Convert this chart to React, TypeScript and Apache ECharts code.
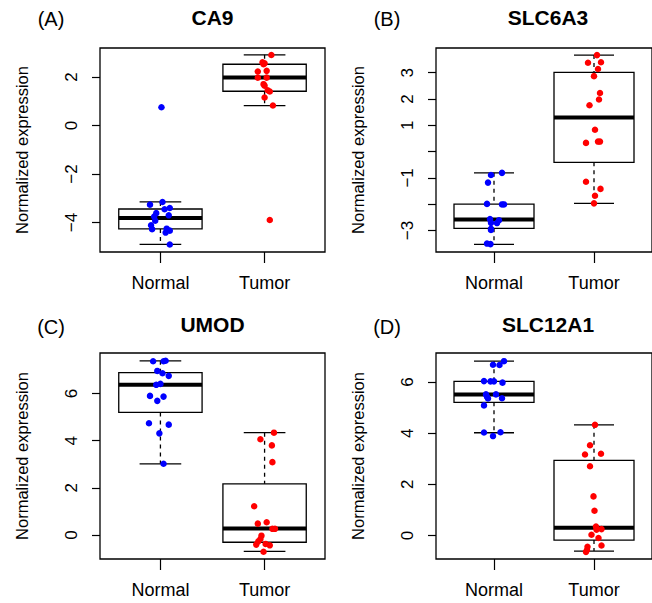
import React, { useEffect, useRef } from 'react';
import * as echarts from 'echarts';

// ---------- data ----------
const groups = ['Normal', 'Tumor'];
const genes = ['CA9', 'SLC6A3', 'UMOD', 'SLC12A1'];
const panelTags = ['(A)', '(B)', '(C)', '(D)'];
const yLabel = 'Normalized expression';

// box statistics: [lower whisker, Q1, median, Q3, upper whisker]
const ca9NormalBox = [-4.9, -4.26, -3.81, -3.44, -3.15];
const ca9TumorBox = [0.82, 1.41, 1.98, 2.52, 2.91];
const slc6a3NormalBox = [-3.53, -2.92, -2.58, -2.0, -0.81];
const slc6a3TumorBox = [-1.97, -0.41, 1.3, 3.01, 3.67];
const umodNormalBox = [3.02, 5.2, 6.37, 6.89, 7.39];
const umodTumorBox = [-0.7, -0.31, 0.27, 2.17, 4.34];
const slc12a1NormalBox = [4.02, 5.21, 5.52, 6.03, 6.82];
const slc12a1TumorBox = [-0.61, -0.18, 0.3, 2.94, 4.33];

// individual samples (value) and horizontal jitter
const ca9Normal = [0.75, -3.15, -3.26, -3.4, -3.45, -3.61, -3.7, -3.75, -3.92, -4.11, -4.25, -4.27, -4.33, -4.41, -4.9];
const ca9NormalJit = [0.01, 0.02, -0.1, 0.09, 0.04, -0.04, 0.08, -0.06, -0.05, -0.09, 0.06, -0.08, 0.09, 0.05, 0.09];
const ca9Tumor = [2.9, 2.6, 2.56, 2.52, 2.25, 2.22, 1.97, 1.97, 1.7, 1.64, 1.45, 1.4, 1.15, 0.82, -3.89];
const ca9TumorJit = [0.065, -0.02, 0.0, -0.01, 0.02, -0.065, -0.065, 0.02, -0.01, 0.0, 0.03, 0.05, 0.0, 0.08, 0.05];

const slc6a3Normal = [-0.81, -0.89, -1.18, -1.99, -2.01, -2.01, -2.57, -2.61, -2.71, -2.72, -2.94, -2.98, -3.5, -3.52];
const slc6a3NormalJit = [0.08, -0.03, -0.06, -0.07, 0.08, 0.1, -0.04, 0.05, -0.03, 0.03, -0.03, -0.03, -0.07, -0.035];
const slc6a3Tumor = [3.67, 3.38, 3.4, 3.14, 2.87, 2.23, 1.98, 1.76, 0.83, 0.33, 0.38, 0.38, -1.15, -1.42, -1.68, -1.97];
const slc6a3TumorJit = [0.03, -0.06, 0.07, 0.04, 0.0, 0.06, 0.05, -0.045, 0.01, -0.08, 0.04, 0.06, -0.08, 0.065, 0.01, 0.0];

const umodNormal = [7.37, 7.37, 7.39, 6.96, 6.86, 6.75, 6.37, 6.41, 5.9, 5.87, 5.69, 4.74, 4.68, 4.31, 3.02];
const umodNormalJit = [-0.07, 0.03, 0.05, -0.03, 0.02, 0.08, -0.04, 0.0, -0.1, 0.03, -0.03, -0.11, 0.08, -0.01, 0.03];
const umodTumor = [4.34, 4.06, 3.8, 3.09, 1.22, 0.48, 0.54, 0.26, 0.26, -0.03, -0.17, -0.27, -0.41, -0.38, -0.44, -0.71];
const umodTumorJit = [0.09, -0.04, 0.07, 0.075, -0.1, -0.065, 0.02, 0.075, 0.1, -0.03, -0.04, -0.06, -0.08, 0.01, 0.05, -0.01];

const slc12a1Normal = [6.82, 6.68, 6.67, 6.04, 6.03, 6.03, 5.98, 5.52, 5.52, 5.43, 5.36, 5.37, 5.09, 4.03, 4.04, 3.89];
const slc12a1NormalJit = [0.1, -0.01, 0.055, -0.1, -0.035, 0.0, 0.085, -0.08, 0.02, -0.07, -0.06, 0.08, -0.1, -0.1, 0.065, -0.01];
const slc12a1Tumor = [4.33, 3.53, 3.17, 3.2, 2.71, 1.53, 0.97, 0.35, 0.23, 0.25, 0.03, -0.1, -0.39, -0.44, -0.57, -0.64];
const slc12a1TumorJit = [0.01, -0.04, -0.09, 0.07, -0.04, -0.005, 0.005, 0.02, 0.025, 0.075, -0.025, 0.045, 0.075, -0.065, -0.07, -0.08];

// axis ranges and ticks
const yRanges = [
  [-5.21, 3.19],
  [-3.82, 3.94],
  [-1.02, 7.72],
  [-0.92, 7.14],
];
const yTicks = [
  [-4, -2, 0, 2],
  [-3, -2, -1, 0, 1, 2, 3],
  [0, 2, 4, 6],
  [0, 2, 4, 6],
];
const yTickLabels = [
  [-4, -2, 0, 2],
  [-3, -1, 1, 2, 3],
  [0, 2, 4, 6],
  [0, 2, 4, 6],
];
const xRange = [0.42, 2.58];

// ---------- layout / style ----------
const FONT = '"Liberation Sans", Arial, Helvetica, sans-serif';
const gridBoxes = [
  { left: 100, top: 48, width: 225, height: 204 },
  { left: 436, top: 48, width: 224, height: 204 },
  { left: 100, top: 353, width: 225, height: 206 },
  { left: 436, top: 353, width: 224, height: 206 },
];
const titlePos = [
  { x: 212.5, y: 17, tx: 51, ty: 19 },
  { x: 548, y: 17, tx: 387, ty: 19 },
  { x: 212.5, y: 324, tx: 51, ty: 327 },
  { x: 548, y: 324, tx: 387, ty: 327 },
];

const boxes = [
  [ca9NormalBox, ca9TumorBox],
  [slc6a3NormalBox, slc6a3TumorBox],
  [umodNormalBox, umodTumorBox],
  [slc12a1NormalBox, slc12a1TumorBox],
];
const points = [
  [[ca9Normal, ca9NormalJit], [ca9Tumor, ca9TumorJit]],
  [[slc6a3Normal, slc6a3NormalJit], [slc6a3Tumor, slc6a3TumorJit]],
  [[umodNormal, umodNormalJit], [umodTumor, umodTumorJit]],
  [[slc12a1Normal, slc12a1NormalJit], [slc12a1Tumor, slc12a1TumorJit]],
];
const groupColors = ['#0000FF', '#FF0000'];

const fmtNum = (v: number) => (v < 0 ? '\u2212' + Math.abs(v) : String(v));

function renderBox(params: any, api: any) {
  const x = api.value(0);
  const lo = api.value(1);
  const q1 = api.value(2);
  const med = api.value(3);
  const q3 = api.value(4);
  const hi = api.value(5);
  const hw = 0.4;
  const cw = 0.2;
  const tl = api.coord([x - hw, q3]);
  const br = api.coord([x + hw, q1]);
  const mL = api.coord([x - hw, med]);
  const mR = api.coord([x + hw, med]);
  const pHi = api.coord([x, hi]);
  const pQ3 = api.coord([x, q3]);
  const pQ1 = api.coord([x, q1]);
  const pLo = api.coord([x, lo]);
  const cHiL = api.coord([x - cw, hi]);
  const cHiR = api.coord([x + cw, hi]);
  const cLoL = api.coord([x - cw, lo]);
  const cLoR = api.coord([x + cw, lo]);
  const lw = 1.3;
  const dash = { stroke: '#000', lineWidth: lw, lineDash: [4, 4], fill: null };
  const solid = { stroke: '#000', lineWidth: lw, fill: null };
  return {
    type: 'group',
    children: [
      { type: 'line', shape: { x1: pHi[0], y1: pHi[1], x2: pQ3[0], y2: pQ3[1] }, style: dash },
      { type: 'line', shape: { x1: pQ1[0], y1: pQ1[1], x2: pLo[0], y2: pLo[1] }, style: dash },
      { type: 'line', shape: { x1: cHiL[0], y1: cHiL[1], x2: cHiR[0], y2: cHiR[1] }, style: solid },
      { type: 'line', shape: { x1: cLoL[0], y1: cLoL[1], x2: cLoR[0], y2: cLoR[1] }, style: solid },
      {
        type: 'rect',
        shape: { x: tl[0], y: tl[1], width: br[0] - tl[0], height: br[1] - tl[1] },
        style: { stroke: '#000', lineWidth: lw, fill: 'none' },
      },
      { type: 'line', shape: { x1: mL[0], y1: mL[1], x2: mR[0], y2: mR[1] }, style: { stroke: '#000', lineWidth: 4 } },
    ],
  };
}

export default function App() {
  const ref = useRef<HTMLDivElement>(null);

  useEffect(() => {
    document.body.style.margin = '0';
    if (!ref.current) return;
    const chart = echarts.init(ref.current, null, { renderer: 'svg' });

    const grid = gridBoxes.map((g) => ({
      ...g,
      show: true,
      borderColor: '#000',
      borderWidth: 1.3,
      backgroundColor: 'transparent',
      containLabel: false,
    }));

    const xAxis = gridBoxes.map((_, i) => ({
      type: 'value',
      gridIndex: i,
      position: 'bottom',
      min: xRange[0],
      max: xRange[1],
      axisLine: { show: false, onZero: false },
      splitLine: { show: false },
      axisTick: { show: true, inside: false, length: 11, customValues: [1, 2], lineStyle: { color: '#000', width: 1.2 } },
      axisLabel: {
        show: true,
        customValues: [1, 2],
        margin: 22,
        color: '#000',
        fontSize: 18,
        fontFamily: FONT,
        formatter: (v: number) => groups[Math.round(v) - 1] ?? '',
      },
    }));

    const yAxis = gridBoxes.map((_, i) => ({
      type: 'value',
      gridIndex: i,
      position: 'left',
      min: yRanges[i][0],
      max: yRanges[i][1],
      name: yLabel,
      nameLocation: 'middle',
      nameGap: 70,
      nameTextStyle: { color: '#000', fontSize: 16.5, fontFamily: FONT },
      axisLine: { show: false, onZero: false },
      splitLine: { show: false },
      axisTick: { show: true, inside: false, length: 8, customValues: yTicks[i], lineStyle: { color: '#000', width: 1.2 } },
      axisLabel: {
        show: true,
        customValues: yTickLabels[i],
        rotate: 90,
        margin: 20,
        color: '#000',
        fontSize: 17,
        fontFamily: FONT,
        formatter: (v: number) => fmtNum(v),
      },
    }));

    const series: any[] = [];
    boxes.forEach((pair, i) => {
      series.push({
        type: 'custom',
        xAxisIndex: i,
        yAxisIndex: i,
        renderItem: renderBox,
        data: pair.map((b, g) => [g + 1, ...b]),
        encode: { x: 0, y: [1, 2, 3, 4, 5] },
        silent: true,
        z: 2,
      });
      points[i].forEach(([vals, jit], g) => {
        series.push({
          type: 'scatter',
          xAxisIndex: i,
          yAxisIndex: i,
          data: vals.map((v, k) => [g + 1 + jit[k], v]),
          symbol: 'circle',
          symbolSize: 6.5,
          itemStyle: { color: groupColors[g], borderWidth: 0, opacity: 1 },
          silent: true,
          z: 3,
        });
      });
    });

    const graphic: any[] = [];
    titlePos.forEach((p, i) => {
      graphic.push({
        type: 'text',
        x: p.x,
        y: p.y,
        style: {
          text: genes[i],
          textAlign: 'center',
          textVerticalAlign: 'middle',
          font: `bold 21px ${FONT}`,
          fill: '#000',
        },
      });
      graphic.push({
        type: 'text',
        x: p.tx,
        y: p.ty,
        style: {
          text: panelTags[i],
          textAlign: 'center',
          textVerticalAlign: 'middle',
          font: `20px ${FONT}`,
          fill: '#000',
        },
      });
    });

    chart.setOption({
      animation: false,
      backgroundColor: '#fff',
      grid,
      xAxis,
      yAxis,
      series,
      graphic,
    });

    return () => chart.dispose();
  }, []);

  return <div ref={ref} style={{ width: 652, height: 603 }} />;
}
